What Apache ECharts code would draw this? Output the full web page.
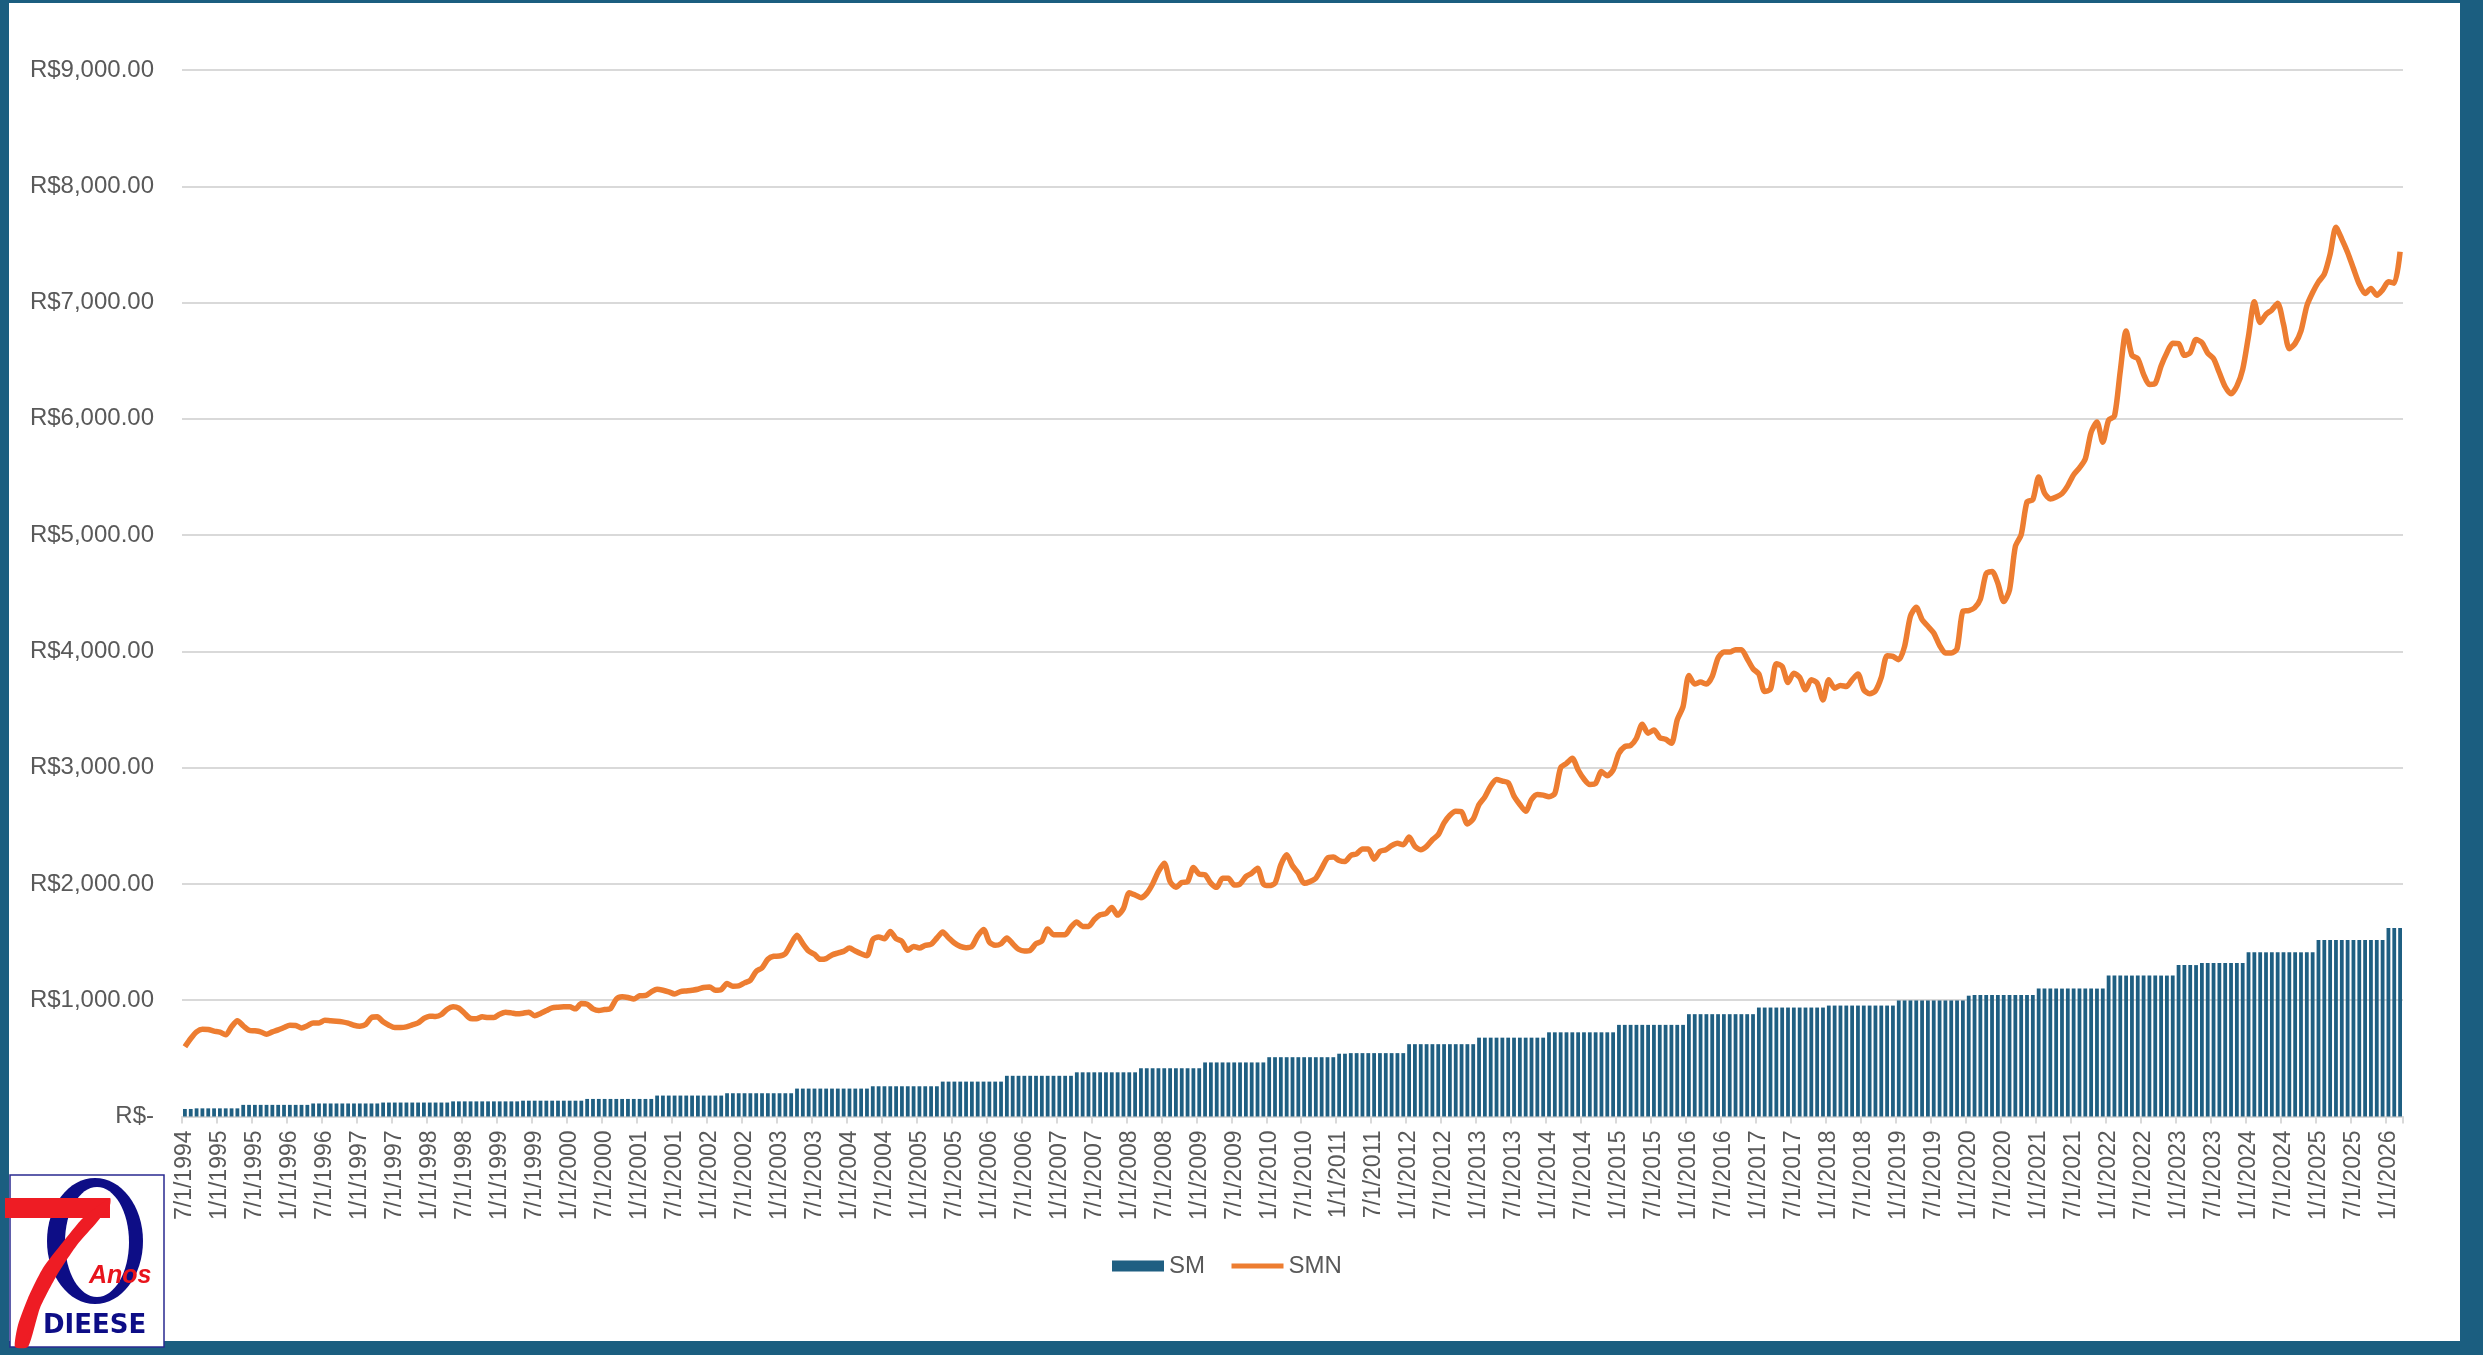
<!DOCTYPE html>
<html>
<head>
<meta charset="utf-8">
<script src="https://cdn.jsdelivr.net/npm/echarts@6/dist/echarts.min.js"></script>
<style>
  html, body { margin: 0; padding: 0; background: #1b5e80; }
  #frame { position: absolute; left: 9px; top: 3px; width: 2451px; height: 1338px; background: #fff; }
  #chart { position: absolute; left: 0; top: 0; width: 2483px; height: 1355px; }
</style>
</head>
<body>
<div id="frame"></div>
<div id="chart"></div>
<script>
// months, Jul 1994 .. Mar 2026
const months = [
  '7/1/1994','8/1/1994','9/1/1994','10/1/1994','11/1/1994','12/1/1994',
  '1/1/1995','2/1/1995','3/1/1995','4/1/1995','5/1/1995','6/1/1995','7/1/1995','8/1/1995','9/1/1995','10/1/1995','11/1/1995','12/1/1995',
  '1/1/1996','2/1/1996','3/1/1996','4/1/1996','5/1/1996','6/1/1996','7/1/1996','8/1/1996','9/1/1996','10/1/1996','11/1/1996','12/1/1996',
  '1/1/1997','2/1/1997','3/1/1997','4/1/1997','5/1/1997','6/1/1997','7/1/1997','8/1/1997','9/1/1997','10/1/1997','11/1/1997','12/1/1997',
  '1/1/1998','2/1/1998','3/1/1998','4/1/1998','5/1/1998','6/1/1998','7/1/1998','8/1/1998','9/1/1998','10/1/1998','11/1/1998','12/1/1998',
  '1/1/1999','2/1/1999','3/1/1999','4/1/1999','5/1/1999','6/1/1999','7/1/1999','8/1/1999','9/1/1999','10/1/1999','11/1/1999','12/1/1999',
  '1/1/2000','2/1/2000','3/1/2000','4/1/2000','5/1/2000','6/1/2000','7/1/2000','8/1/2000','9/1/2000','10/1/2000','11/1/2000','12/1/2000',
  '1/1/2001','2/1/2001','3/1/2001','4/1/2001','5/1/2001','6/1/2001','7/1/2001','8/1/2001','9/1/2001','10/1/2001','11/1/2001','12/1/2001',
  '1/1/2002','2/1/2002','3/1/2002','4/1/2002','5/1/2002','6/1/2002','7/1/2002','8/1/2002','9/1/2002','10/1/2002','11/1/2002','12/1/2002',
  '1/1/2003','2/1/2003','3/1/2003','4/1/2003','5/1/2003','6/1/2003','7/1/2003','8/1/2003','9/1/2003','10/1/2003','11/1/2003','12/1/2003',
  '1/1/2004','2/1/2004','3/1/2004','4/1/2004','5/1/2004','6/1/2004','7/1/2004','8/1/2004','9/1/2004','10/1/2004','11/1/2004','12/1/2004',
  '1/1/2005','2/1/2005','3/1/2005','4/1/2005','5/1/2005','6/1/2005','7/1/2005','8/1/2005','9/1/2005','10/1/2005','11/1/2005','12/1/2005',
  '1/1/2006','2/1/2006','3/1/2006','4/1/2006','5/1/2006','6/1/2006','7/1/2006','8/1/2006','9/1/2006','10/1/2006','11/1/2006','12/1/2006',
  '1/1/2007','2/1/2007','3/1/2007','4/1/2007','5/1/2007','6/1/2007','7/1/2007','8/1/2007','9/1/2007','10/1/2007','11/1/2007','12/1/2007',
  '1/1/2008','2/1/2008','3/1/2008','4/1/2008','5/1/2008','6/1/2008','7/1/2008','8/1/2008','9/1/2008','10/1/2008','11/1/2008','12/1/2008',
  '1/1/2009','2/1/2009','3/1/2009','4/1/2009','5/1/2009','6/1/2009','7/1/2009','8/1/2009','9/1/2009','10/1/2009','11/1/2009','12/1/2009',
  '1/1/2010','2/1/2010','3/1/2010','4/1/2010','5/1/2010','6/1/2010','7/1/2010','8/1/2010','9/1/2010','10/1/2010','11/1/2010','12/1/2010',
  '1/1/2011','2/1/2011','3/1/2011','4/1/2011','5/1/2011','6/1/2011','7/1/2011','8/1/2011','9/1/2011','10/1/2011','11/1/2011','12/1/2011',
  '1/1/2012','2/1/2012','3/1/2012','4/1/2012','5/1/2012','6/1/2012','7/1/2012','8/1/2012','9/1/2012','10/1/2012','11/1/2012','12/1/2012',
  '1/1/2013','2/1/2013','3/1/2013','4/1/2013','5/1/2013','6/1/2013','7/1/2013','8/1/2013','9/1/2013','10/1/2013','11/1/2013','12/1/2013',
  '1/1/2014','2/1/2014','3/1/2014','4/1/2014','5/1/2014','6/1/2014','7/1/2014','8/1/2014','9/1/2014','10/1/2014','11/1/2014','12/1/2014',
  '1/1/2015','2/1/2015','3/1/2015','4/1/2015','5/1/2015','6/1/2015','7/1/2015','8/1/2015','9/1/2015','10/1/2015','11/1/2015','12/1/2015',
  '1/1/2016','2/1/2016','3/1/2016','4/1/2016','5/1/2016','6/1/2016','7/1/2016','8/1/2016','9/1/2016','10/1/2016','11/1/2016','12/1/2016',
  '1/1/2017','2/1/2017','3/1/2017','4/1/2017','5/1/2017','6/1/2017','7/1/2017','8/1/2017','9/1/2017','10/1/2017','11/1/2017','12/1/2017',
  '1/1/2018','2/1/2018','3/1/2018','4/1/2018','5/1/2018','6/1/2018','7/1/2018','8/1/2018','9/1/2018','10/1/2018','11/1/2018','12/1/2018',
  '1/1/2019','2/1/2019','3/1/2019','4/1/2019','5/1/2019','6/1/2019','7/1/2019','8/1/2019','9/1/2019','10/1/2019','11/1/2019','12/1/2019',
  '1/1/2020','2/1/2020','3/1/2020','4/1/2020','5/1/2020','6/1/2020','7/1/2020','8/1/2020','9/1/2020','10/1/2020','11/1/2020','12/1/2020',
  '1/1/2021','2/1/2021','3/1/2021','4/1/2021','5/1/2021','6/1/2021','7/1/2021','8/1/2021','9/1/2021','10/1/2021','11/1/2021','12/1/2021',
  '1/1/2022','2/1/2022','3/1/2022','4/1/2022','5/1/2022','6/1/2022','7/1/2022','8/1/2022','9/1/2022','10/1/2022','11/1/2022','12/1/2022',
  '1/1/2023','2/1/2023','3/1/2023','4/1/2023','5/1/2023','6/1/2023','7/1/2023','8/1/2023','9/1/2023','10/1/2023','11/1/2023','12/1/2023',
  '1/1/2024','2/1/2024','3/1/2024','4/1/2024','5/1/2024','6/1/2024','7/1/2024','8/1/2024','9/1/2024','10/1/2024','11/1/2024','12/1/2024',
  '1/1/2025','2/1/2025','3/1/2025','4/1/2025','5/1/2025','6/1/2025','7/1/2025','8/1/2025','9/1/2025','10/1/2025','11/1/2025','12/1/2025',
  '1/1/2026','2/1/2026','3/1/2026'
];

// SM - salario minimo (bars)
const sm = [
  64.79,64.79,70,70,70,70,
  70,70,70,70,100,100,100,100,100,100,100,100,
  100,100,100,100,112,112,112,112,112,112,112,112,
  112,112,112,112,120,120,120,120,120,120,120,120,
  120,120,120,120,130,130,130,130,130,130,130,130,
  130,130,130,130,136,136,136,136,136,136,136,136,
  136,136,136,151,151,151,151,151,151,151,151,151,
  151,151,151,180,180,180,180,180,180,180,180,180,
  180,180,180,200,200,200,200,200,200,200,200,200,
  200,200,200,240,240,240,240,240,240,240,240,240,
  240,240,240,240,260,260,260,260,260,260,260,260,
  260,260,260,260,300,300,300,300,300,300,300,300,
  300,300,300,350,350,350,350,350,350,350,350,350,
  350,350,350,380,380,380,380,380,380,380,380,380,
  380,380,415,415,415,415,415,415,415,415,415,415,
  415,465,465,465,465,465,465,465,465,465,465,465,
  510,510,510,510,510,510,510,510,510,510,510,510,
  540,540,545,545,545,545,545,545,545,545,545,545,
  622,622,622,622,622,622,622,622,622,622,622,622,
  678,678,678,678,678,678,678,678,678,678,678,678,
  724,724,724,724,724,724,724,724,724,724,724,724,
  788,788,788,788,788,788,788,788,788,788,788,788,
  880,880,880,880,880,880,880,880,880,880,880,880,
  937,937,937,937,937,937,937,937,937,937,937,937,
  954,954,954,954,954,954,954,954,954,954,954,954,
  998,998,998,998,998,998,998,998,998,998,998,998,
  1039,1045,1045,1045,1045,1045,1045,1045,1045,1045,1045,1045,
  1100,1100,1100,1100,1100,1100,1100,1100,1100,1100,1100,1100,
  1212,1212,1212,1212,1212,1212,1212,1212,1212,1212,1212,1212,
  1302,1302,1302,1302,1320,1320,1320,1320,1320,1320,1320,1320,
  1412,1412,1412,1412,1412,1412,1412,1412,1412,1412,1412,1412,
  1518,1518,1518,1518,1518,1518,1518,1518,1518,1518,1518,1518,
  1621,1621,1621
];

// SMN - salario minimo necessario (line)
const smn = [
  600,671,728,751,748,734,
  725,702,771,823,780,742,737,728,708,728,745,765,
  785,783,762,780,805,805,828,823,820,814,803,785,
  777,791,851,857,814,785,765,765,771,788,805,843,
  863,860,877,923,943,931,886,843,840,857,851,851,
  880,897,891,883,888,897,866,886,911,934,940,943,
  943,926,971,966,926,911,920,928,1009,1029,1023,1010,
  1038,1040,1072,1094,1086,1072,1054,1074,1080,1086,1094,1109,
  1114,1086,1092,1143,1120,1123,1149,1172,1249,1278,1352,1378,
  1380,1400,1486,1558,1486,1423,1395,1352,1358,1389,1406,1420,
  1449,1423,1400,1383,1521,1544,1529,1592,1529,1506,1429,1463,
  1449,1472,1481,1535,1587,1538,1492,1463,1452,1463,1552,1609,
  1500,1472,1486,1535,1486,1438,1423,1429,1486,1509,1612,1564,
  1564,1564,1629,1672,1635,1635,1694,1735,1746,1798,1732,1790,
  1925,1905,1882,1919,2000,2107,2179,2020,1971,2012,2020,2141,
  2084,2078,2006,1971,2049,2049,1991,2000,2063,2092,2135,2000,
  1986,2006,2164,2251,2156,2092,2006,2020,2049,2135,2222,2231,
  2202,2193,2245,2259,2300,2300,2213,2280,2294,2329,2349,2337,
  2403,2323,2294,2323,2380,2424,2525,2591,2625,2620,2516,2559,
  2683,2749,2842,2899,2885,2870,2755,2683,2625,2726,2770,2764,
  2750,2779,3000,3037,3080,2980,2902,2856,2865,2966,2931,2980,
  3124,3181,3190,3253,3374,3296,3325,3259,3244,3210,3411,3526,
  3793,3719,3736,3719,3785,3943,3994,3994,4015,4015,3937,3851,
  3805,3655,3675,3894,3871,3733,3813,3776,3670,3756,3727,3583,
  3756,3684,3707,3698,3756,3805,3670,3635,3661,3776,3963,3957,
  3928,4043,4302,4380,4273,4216,4158,4052,3986,3986,4023,4345,
  4351,4374,4450,4670,4687,4586,4428,4529,4902,5003,5285,5305,
  5500,5362,5311,5328,5357,5426,5520,5578,5655,5885,5972,5799,
  5989,6023,6411,6756,6546,6518,6383,6296,6305,6454,6569,6650,
  6647,6546,6570,6682,6656,6565,6517,6396,6276,6215,6281,6425,
  6713,7006,6828,6899,6937,6994,6813,6603,6649,6756,6971,7086,
  7178,7244,7417,7647,7546,7431,7293,7158,7078,7121,7063,7109,
  7178,7167,7437
];

const yTicks = [0, 1000, 2000, 3000, 4000, 5000, 6000, 7000, 8000, 9000];

window.addEventListener("load", () => {
  let chart = echarts.init(document.getElementById("chart"), null, { renderer: 'canvas' });

  const font = 'Liberation Sans';
  const grey = '#595959';
  const red = '#ee1c24';
  const navy = '#0d0d86';
  const orange = '#ed7d31';

  let option = {
    backgroundColor: 'transparent',
    animation: false,
    textStyle: { fontFamily: font },
    grid: { left: 182, right: 80, top: 70, bottom: 238.5, containLabel: false },
    legend: {
      left: 1107,
      top: 1249,
      itemWidth: 52,
      itemHeight: 11,
      itemGap: 24,
      textStyle: { color: grey, fontSize: 24, fontFamily: font },
      data: [
        { name: 'SM', icon: 'rect' },
        { name: 'SMN', itemStyle: { opacity: 0 }, lineStyle: { width: 5, color: orange } }
      ]
    },
    xAxis: {
      type: 'category',
      data: months,
      boundaryGap: true,
      axisLine: { lineStyle: { color: '#d9d9d9', width: 2 } },
      axisTick: { show: true, interval: 5, length: 7, lineStyle: { color: '#d9d9d9', width: 2 } },
      axisLabel: { interval: 5, rotate: 90, margin: 14, color: grey, fontSize: 23, fontFamily: font }
    },
    yAxis: {
      type: 'value',
      min: yTicks[0],
      max: yTicks[yTicks.length - 1],
      interval: 1000,
      axisLine: { show: false },
      axisTick: { show: false },
      splitLine: { lineStyle: { color: '#d9d9d9', width: 2 } },
      axisLabel: {
        margin: 28,
        color: grey,
        fontSize: 24,
        fontFamily: font,
        formatter: function (v) {
          if (v === 0) return 'R$-';
          return 'R$' + v.toLocaleString('en-US', { minimumFractionDigits: 2, maximumFractionDigits: 2 });
        }
      }
    },
    series: [
      {
        name: 'SM',
        type: 'bar',
        data: sm,
        barCategoryGap: '35%',
        itemStyle: { color: '#1f5f82' }
      },
      {
        name: 'SMN',
        type: 'line',
        data: smn,
        symbol: 'none',
        smooth: 0.25,
        lineStyle: { color: orange, width: 5.5 },
        itemStyle: { color: orange },
        z: 3
      }
    ],
    // DIEESE 70 anos logo, bottom left
    graphic: [
      { type: 'rect', shape: { x: 10, y: 1175, width: 154, height: 172 }, style: { fill: '#fff', stroke: '#2a2a90', lineWidth: 1.5 } },
      { type: 'ellipse', shape: { cx: 95, cy: 1241, rx: 48, ry: 63 }, style: { fill: navy } },
      { type: 'ellipse', shape: { cx: 97, cy: 1242, rx: 32, ry: 55 }, style: { fill: '#fff' } },
      { type: 'rect', shape: { x: 5, y: 1198, width: 105, height: 20 }, style: { fill: red } },
      {
        type: 'polygon',
        shape: {
          points: [[110, 1198], [110, 1205], [97, 1222], [77, 1245], [57, 1275], [40, 1308], [28, 1347],
                   [15, 1347], [18, 1325], [28, 1298], [43, 1268], [63, 1242], [83, 1218]],
          smooth: 0.2
        },
        style: { fill: red }
      },
      { type: 'text', style: { text: 'Anos', x: 89, y: 1264, font: 'italic bold 25px "Liberation Sans"', fill: '#e8141c' } },
      { type: 'text', style: { text: 'DIEESE', x: 43, y: 1313, font: 'bold 26px "DejaVu Sans"', fill: navy } }
    ]
  };

  chart.setOption(option);
});
</script>
</body>
</html>
